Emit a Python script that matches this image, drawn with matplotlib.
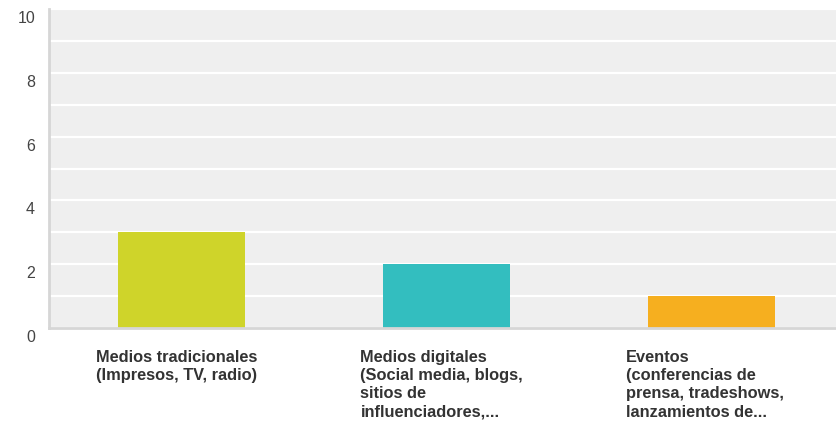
import matplotlib.pyplot as plt
import matplotlib.transforms as mtransforms

categorias = [
    'Medios tradicionales\n(Impresos, TV, radio)',
    'Medios digitales\n(Social media, blogs,\nsitios de\ninfluenciadores,...',
    'Eventos\n(conferencias de\nprensa, tradeshows,\nlanzamientos de...',
]
valores = [3, 2, 1]
colores = ['#cfd42a', '#33bebf', '#f6af1f']

plt.rcParams['font.family'] = ['Liberation Sans', 'DejaVu Sans']

fig = plt.figure(figsize=(8.36, 4.25), dpi=100)
ax = fig.add_axes([49 / 836, 97 / 425, 1 - 49 / 836, 319 / 425])
ax.set_facecolor('#efefef')

x = range(len(valores))
ax.bar(x, valores, width=0.48, color=colores, zorder=3)

ax.set_ylim(0, 10)
ax.set_xlim(-0.5, (836 - 49) / 265 - 0.5)

# lineas blancas en cada entero, etiquetas solo en los pares
ax.set_yticks(range(0, 11, 2))
ax.set_yticks(range(1, 11, 2), minor=True)
ax.grid(axis='y', which='both', color='white', linewidth=1.6, zorder=1)
ax.tick_params(axis='y', which='both', length=0, pad=10, labelsize=11.5, labelcolor='#444444')

desplaza_y = mtransforms.ScaledTranslation(0, -0.08, fig.dpi_scale_trans)
for lbl in ax.get_yticklabels():
    lbl.set_transform(lbl.get_transform() + desplaza_y)

ax.set_xticks(list(x))
ax.set_xticklabels(categorias, ha='left', va='top', fontsize=11.8, fontweight='bold',
                   color='#333333', linespacing=1.26)
ax.tick_params(axis='x', length=0, pad=16)
desplaza_x = mtransforms.ScaledTranslation(-0.86, 0, fig.dpi_scale_trans)
for lbl in ax.get_xticklabels():
    lbl.set_transform(lbl.get_transform() + desplaza_x)

for lado in ['top', 'right']:
    ax.spines[lado].set_visible(False)
for lado in ['left', 'bottom']:
    ax.spines[lado].set_color('#d6d6d6')
    ax.spines[lado].set_linewidth(2)
    ax.spines[lado].set_zorder(4)

fig.savefig('out.png', dpi=100)
plt.close()
